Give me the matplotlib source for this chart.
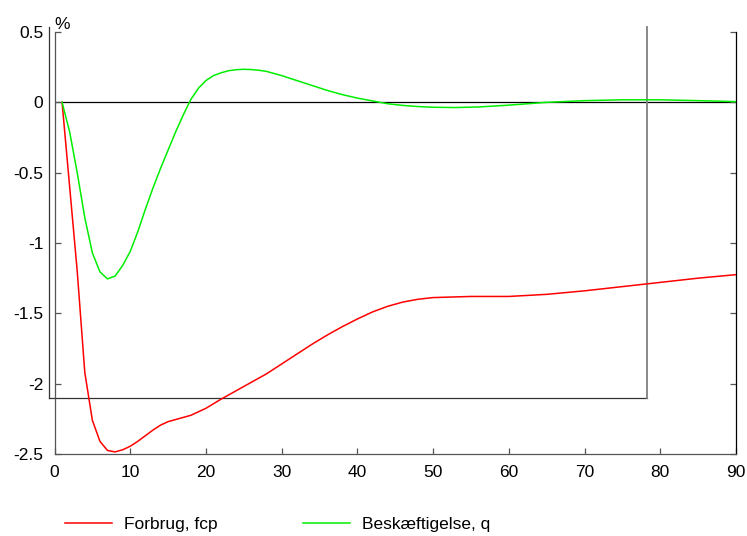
import matplotlib.pyplot as plt

plt.rcParams["font.family"] = ["Liberation Sans", "DejaVu Sans"]

# Forbrug, fcp (red)
red_x = [1, 2, 3, 4, 5, 6, 7, 8, 9, 10, 11, 12, 13, 14, 15, 16, 17, 18, 19, 20,
         22, 24, 26, 28, 30, 32, 34, 36, 38, 40, 42, 44, 46, 48, 50,
         55, 60, 65, 70, 75, 80, 85, 90]
red_y = [0.0, -0.6, -1.2, -1.92, -2.26, -2.41, -2.475, -2.485, -2.47, -2.445, -2.41, -2.37, -2.33, -2.295, -2.27, -2.255, -2.24, -2.225, -2.2, -2.175,
         -2.11, -2.05, -1.99, -1.93, -1.86, -1.79, -1.72, -1.655, -1.595, -1.54, -1.49, -1.45, -1.42, -1.4, -1.388,
         -1.38, -1.38, -1.365, -1.34, -1.31, -1.28, -1.25, -1.225]

# Beskæftigelse, q (green)
green_x = [1, 2, 3, 4, 5, 6, 7, 8, 9, 10, 11, 12, 13, 14, 15, 16, 17, 18, 19, 20,
           21, 22, 23, 24, 25, 26, 27, 28, 30, 32, 34, 36, 38, 40, 42, 44, 46, 48, 50,
           53, 56, 60, 65, 70, 75, 80, 85, 90]
green_y = [0.0, -0.21, -0.5, -0.82, -1.07, -1.205, -1.255, -1.235, -1.16, -1.06, -0.92, -0.76, -0.61, -0.47, -0.34, -0.21, -0.09, 0.02, 0.1, 0.155,
           0.19, 0.21, 0.225, 0.232, 0.235, 0.233, 0.228, 0.22, 0.19, 0.155, 0.12, 0.085, 0.055, 0.03, 0.01, -0.01, -0.022, -0.03, -0.035,
           -0.037, -0.033, -0.02, 0.0, 0.012, 0.018, 0.018, 0.012, 0.005]

x_ticks = [0, 10, 20, 30, 40, 50, 60, 70, 80, 90]
y_ticks = [0.5, 0, -0.5, -1, -1.5, -2, -2.5]
y_tick_labels = ["0.5", "0", "-0.5", "-1", "-1.5", "-2", "-2.5"]

# leftover frame drawn in the original chart
frame_left, frame_right = -0.7, 78.3
frame_bottom, frame_top = -2.1, 0.535

fig = plt.figure(figsize=(7.47, 5.36), dpi=100)
ax = fig.add_axes([54.5 / 747, 82 / 536, (736 - 54.5) / 747, (454 - 32) / 536])

ax.axhline(0, color="black", lw=0.9, zorder=1)
line_red, = ax.plot(red_x, red_y, color="#ff0000", lw=1.1, label="Forbrug, fcp", zorder=3)
line_green, = ax.plot(green_x, green_y, color="#00ee00", lw=1.1, label="Beskæftigelse, q", zorder=3)

frame_kw = dict(color="#333333", lw=0.9, clip_on=False, zorder=2)
ax.plot([frame_left, frame_left], [frame_bottom, frame_top], **frame_kw)
ax.plot([frame_left, frame_right], [frame_bottom, frame_bottom], **frame_kw)
ax.plot([frame_right, frame_right], [frame_bottom, frame_top], color="#808080", lw=1.3, clip_on=False, zorder=2)

ax.set_xlim(0, 90)
ax.set_ylim(-2.5, 0.5)
ax.set_xticks(x_ticks)
ax.set_yticks(y_ticks)
ax.set_yticklabels(y_tick_labels)

ax.spines["top"].set_visible(False)
for side in ["left", "bottom", "right"]:
    ax.spines[side].set_linewidth(0.9)
ax.spines["left"].set_color("#555555")
ax.spines["bottom"].set_color("#555555")
ax.spines["right"].set_color("black")

ax.tick_params(axis="both", direction="in", length=4, width=0.9, color="#555555",
               labelsize=12.5)
ax.tick_params(axis="y", right=True, labelright=False, pad=8)
ax.tick_params(axis="x", pad=8)
ax.text(0.0, 1.0, "%", transform=ax.transAxes, fontsize=12.5, ha="left", va="bottom")

fig.legend(handles=[line_red, line_green], loc="center left",
           bbox_to_anchor=(65 / 747, 12 / 536), ncol=2, frameon=False,
           fontsize=12.5, handlelength=2.7, handletextpad=0.7,
           columnspacing=4.9, borderpad=0, borderaxespad=0)

fig.savefig("out.png", dpi=100)
